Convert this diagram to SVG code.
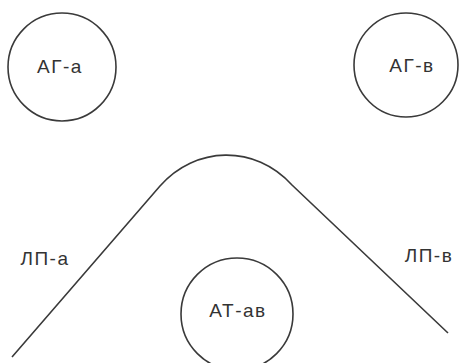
<svg xmlns="http://www.w3.org/2000/svg" width="462" height="363" viewBox="0 0 462 363">
<style>
.n{fill:none;stroke:#3a3a3a;stroke-width:1.6}
.t{font-family:"Liberation Sans",Arial,sans-serif;font-size:19px;fill:#333;text-anchor:middle;letter-spacing:1.5px}
</style>
<rect width="462" height="363" fill="#fff"/>
<g id="connectors">
<path class="n" d="M12,357 L160,186 C195,146 255,144 292,185 L448,333"/>
</g>
<g id="AG-a"><circle class="n" cx="62" cy="67" r="54"/><text class="t" x="60" y="73">АГ-а</text></g>
<g id="AG-v"><circle class="n" cx="406" cy="65" r="52"/><text class="t" x="412" y="72">АГ-в</text></g>
<g id="AT-av"><circle class="n" cx="237" cy="314" r="56"/><text class="t" x="238" y="317">АТ-ав</text></g>
<g id="LP-a"><text class="t" x="45" y="265">ЛП-а</text></g>
<g id="LP-v"><text class="t" x="429" y="262">ЛП-в</text></g>
</svg>
